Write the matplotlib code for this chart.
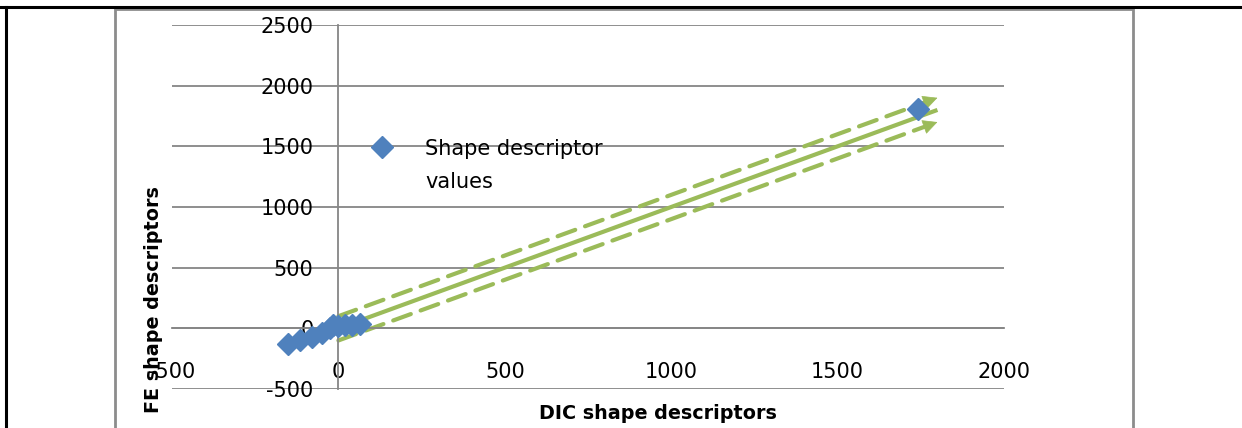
import matplotlib
matplotlib.use("Agg")
import matplotlib.pyplot as plt
from matplotlib.lines import Line2D
from matplotlib.patches import Rectangle

plt.rcParams['font.family'] = ['DejaVu Sans']
plt.rcParams['axes.unicode_minus'] = False

# data
dic_vals = [-150, -114, -78, -48, -24, -15, 0, 21, 42, 66, 1743]
fe_vals = [-131, -99, -74, -41, 0, 30, 16, 25, 25, 33, 1808]

fit_x = [0, 1800]
fit_y = [0, 1800]
upper_y = [100, 1900]
lower_y = [-100, 1700]

x_ticks = [-500, 0, 500, 1000, 1500, 2000]
y_ticks = [-500, 0, 500, 1000, 1500, 2000, 2500]

green = '#9BBB59'
blue = '#4F81BD'
grid_col = '#868686'

W, H = 1242, 428
fig = plt.figure(figsize=(W / 100, H / 100), dpi=100)
ax = fig.add_axes([172 / W, (H - 389) / H, 832 / W, 364 / H])

ax.set_xlim(-500, 2000)
ax.set_ylim(-500, 2500)

ax.plot(fit_x, fit_y, color=green, lw=3, solid_capstyle='butt', zorder=2)
for yy in (upper_y, lower_y):
    ax.plot(fit_x, yy, color=green, lw=3, ls=(0, (4.5, 2.5)), dash_capstyle='round', zorder=2)
    tail = (fit_x[0] + 0.97 * (fit_x[1] - fit_x[0]), yy[0] + 0.97 * (yy[1] - yy[0]))
    ax.annotate('', xy=(fit_x[1], yy[1]), xytext=tail,
                arrowprops=dict(arrowstyle='-|>', color=green, lw=0.5,
                                mutation_scale=24, shrinkA=0, shrinkB=0), zorder=2)

ax.plot(dic_vals, fe_vals, ls='none', marker='D', ms=11.5, color=blue,
        label='Shape descriptor\nvalues', zorder=3)

ax.set_xticks(x_ticks)
ax.set_yticks(y_ticks)
ax.tick_params(axis='both', length=0, labelsize=15)
ax.tick_params(axis='y', pad=18)
ax.tick_params(axis='x', pad=24.5)
ax.yaxis.grid(True, color=grid_col, lw=1.3)
ax.set_axisbelow(True)

for s in ('top', 'right'):
    ax.spines[s].set_visible(False)
ax.spines['left'].set_position(('data', 0))
ax.spines['bottom'].set_position(('data', 0))
ax.spines['left'].set_color(grid_col)
ax.spines['bottom'].set_color(grid_col)
ax.spines['left'].set_linewidth(1.3)
ax.spines['bottom'].set_linewidth(1.3)

ax.set_xlabel('DIC shape descriptors', fontsize=13.8, fontweight='bold')
ax.xaxis.set_label_coords((658 - 172) / 832, (389 - 404) / 364)
ax.set_ylabel('FE shape descriptors', fontsize=13.8, fontweight='bold')
ax.yaxis.set_label_coords((163 - 172) / 832, (389 - 300) / 364)

leg = ax.legend(loc='upper left', bbox_to_anchor=(372 / W, 1 - 139 / H),
                bbox_transform=fig.transFigure, frameon=False, fontsize=15,
                borderpad=0, borderaxespad=0, handlelength=1.0,
                handletextpad=1.55, numpoints=1)
leg.get_texts()[0].set_linespacing(1.8)
h = leg.legend_handles[0]
h.set_ydata([y + 14 for y in h.get_ydata()])

# surrounding frame lines of the original document
fig.add_artist(Line2D([0, 1], [1 - 7 / H, 1 - 7 / H], color='black', lw=2.2,
                      transform=fig.transFigure))
fig.add_artist(Line2D([6 / W, 6 / W], [0, 1 - 7 / H], color='black', lw=2.2,
                      transform=fig.transFigure))
fig.add_artist(Rectangle((115 / W, -0.1), (1133 - 115) / W, 1.1 - 9 / H,
                         fill=False, edgecolor='#8C8C8C', lw=2,
                         transform=fig.transFigure))

fig.savefig('out.png', dpi=100)
